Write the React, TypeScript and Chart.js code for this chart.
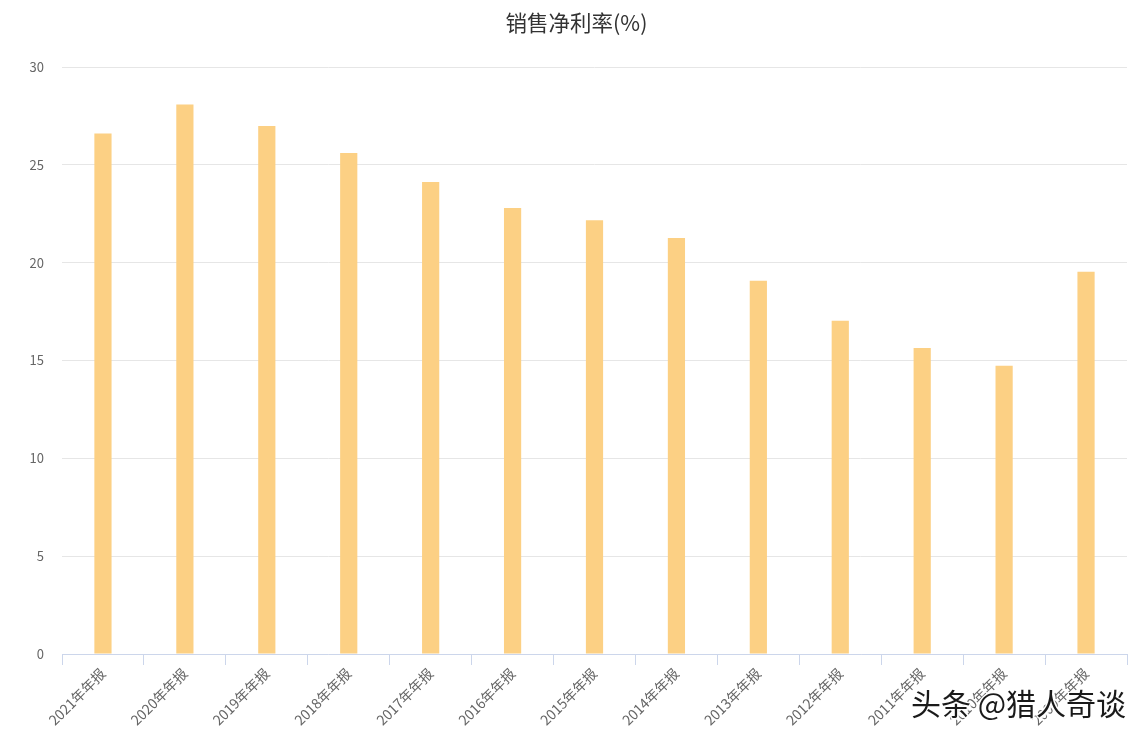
import React, { useEffect, useRef } from "react";
import { Chart, registerables } from "chart.js";

Chart.register(...registerables);

const categories = [
  "2021年年报", "2020年年报", "2019年年报", "2018年年报", "2017年年报",
  "2016年年报", "2015年年报", "2014年年报", "2013年年报", "2012年年报",
  "2011年年报", "2010年年报", "2009年年报",
];
const netMargin = [26.6, 28.08, 26.98, 25.6, 24.12, 22.79, 22.17, 21.26, 19.07, 17.03, 15.64, 14.73, 19.53];
const yTicks = [0, 5, 10, 15, 20, 25, 30];
const titleText = "销售净利率(%)";
const watermark = "头条 @猎人奇谈";

const FONT = "'Noto Sans CJK SC', 'Noto Sans', sans-serif";

export default function App() {
  const ref = useRef<HTMLCanvasElement | null>(null);
  useEffect(() => {
    document.body.style.margin = "0";
    const ctx = ref.current!;
    const chart = new Chart(ctx, {
      type: "bar",
      data: {
        labels: categories,
        datasets: [
          {
            label: titleText,
            data: netMargin,
            backgroundColor: "rgb(252,208,132)",
            borderWidth: 0,
            categoryPercentage: 1,
            barPercentage: 0.21,
          },
        ],
      },
      options: {
        animation: false,
        responsive: false,
        devicePixelRatio: 1,
        layout: { padding: { left: 0, right: 18, top: 67, bottom: 0 } },
        plugins: {
          legend: { display: false },
          tooltip: { enabled: false },
          title: { display: false },
        },
        scales: {
          y: {
            min: 0,
            max: 30,
            afterBuildTicks: (s: any) => {
              s.ticks = yTicks.map((v) => ({ value: v }));
            },
            afterFit: (s: any) => {
              s.width = 62;
            },
            grid: { color: "#e6e6e6", drawTicks: false, lineWidth: 1 },
            border: { display: false },
            ticks: {
              color: "#666",
              font: { family: FONT, size: 13 },
              padding: 18,
            },
          },
          x: {
            afterFit: (s: any) => {
              s.height = 85;
            },
            grid: {
              offset: true,
              drawOnChartArea: false,
              drawTicks: true,
              tickLength: 11,
              color: "#ccd6eb",
            },
            border: { display: true, color: "#ccd6eb", width: 1 },
            ticks: {
              color: "#666",
              font: { family: FONT, size: 14 },
              minRotation: 45,
              maxRotation: 45,
              autoSkip: false,
              padding: 0,
            },
          },
        },
      },
    });
    return () => chart.destroy();
  }, []);
  return (
    <div style={{ position: "relative", width: 1145, height: 739, background: "#fff" }}>
      <canvas ref={ref} width={1145} height={739} style={{ display: "block" }} />
      <div
        style={{
          position: "absolute",
          left: 0,
          width: 1153,
          top: 8,
          textAlign: "center",
          fontFamily: FONT,
          fontSize: 21.5,
          lineHeight: "28px",
          color: "#333",
          whiteSpace: "nowrap",
        }}
      >
        {titleText}
      </div>
      <div
        style={{
          position: "absolute",
          left: 911,
          top: 680,
          fontFamily: FONT,
          fontSize: 30,
          color: "#1a1a1a",
          whiteSpace: "nowrap",
          textShadow: "1px 1px 0 #fff, -1px -1px 0 #fff, 1px -1px 0 #fff, -1px 1px 0 #fff, 2px 2px 1px rgba(255,255,255,0.9)",
        }}
      >
        {watermark}
      </div>
    </div>
  );
}
